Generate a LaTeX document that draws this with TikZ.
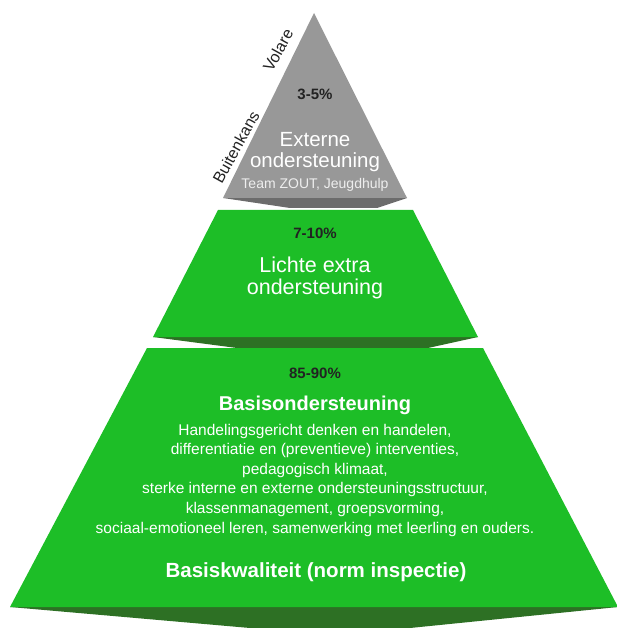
\documentclass[tikz,border=0pt]{standalone}
\usepackage{fontspec}
\setmainfont{Liberation Sans}
\usepackage{tikz}
\usetikzlibrary{calc,positioning}
\definecolor{lgreen}{RGB}{29,190,39}
\definecolor{dgreen}{RGB}{45,112,36}
\definecolor{lgray}{RGB}{152,152,152}
\definecolor{dgray}{RGB}{108,108,108}
\definecolor{ink}{RGB}{34,34,34}
\definecolor{pale}{RGB}{238,238,238}

\begin{document}
\begin{tikzpicture}[x=1pt,y=-1pt]
\tikzstyle{pct}=[text=ink,font=\fontsize{15}{17}\selectfont\bfseries]
\tikzstyle{title}=[text=white,font=\fontsize{20.5}{21}\selectfont,align=center]
\tikzstyle{body}=[text=white,font=\fontsize{15.5}{19.6}\selectfont,align=center]
\tikzstyle{side}=[text=ink,font=\fontsize{16}{18}\selectfont,rotate=61,inner sep=0pt]
\useasboundingbox (0,0) rectangle (616,628);
 %shapes
 \fill[dgray] (223,198) -- (407,198) -- (377,208) -- (290,208) -- cycle;
 \fill[lgray] (314,13) -- (407,198) -- (223,198) -- cycle;
 \fill[dgreen] (153,337) -- (478,337) -- (428,348) -- (237,348) -- cycle;
 \fill[lgreen] (218,210) -- (413,210) -- (478,337) -- (153,337) -- cycle;
 \fill[dgreen] (10,607) -- (618,607) -- (410,628) -- (250,628) -- cycle;
 \fill[lgreen] (147,348) -- (483,348) -- (618,607) -- (10,607) -- cycle;
 %top
 \node[pct] (p3) at (315,94) {3-5\%};
 \node[title] (ext) at (315,152) {Externe\\ondersteuning};
 \node[text=pale,font=\fontsize{14}{16}\selectfont] (team) at (315,185) {Team ZOUT, Jeugdhulp};
 \node[side] (volare) at (278,50) {Volare};
 \node[side] (buiten) at (236,147) {Buitenkans};
 %middle
 \node[pct] (p7) at (315,233) {7-10\%};
 \node[title,font=\fontsize{21.5}{22}\selectfont] (lichte) at (315,278) {Lichte extra\\ondersteuning};
 %bottom
 \node[pct] (p85) at (315,373) {85-90\%};
 \node[title,font=\fontsize{20}{21}\selectfont\bfseries] (basis) at (315,405) {Basisondersteuning};
 \node[body] (list) at (315,480) {Handelingsgericht denken en handelen,\\differentiatie en (preventieve) interventies,\\pedagogisch klimaat,\\sterke interne en externe ondersteuningsstructuur,\\klassenmanagement, groepsvorming,\\sociaal-emotioneel leren, samenwerking met leerling en ouders.};
 \node[title,font=\fontsize{20.5}{21}\selectfont\bfseries] (norm) at (316,572) {Basiskwaliteit (norm inspectie)};
\end{tikzpicture}
\end{document}
